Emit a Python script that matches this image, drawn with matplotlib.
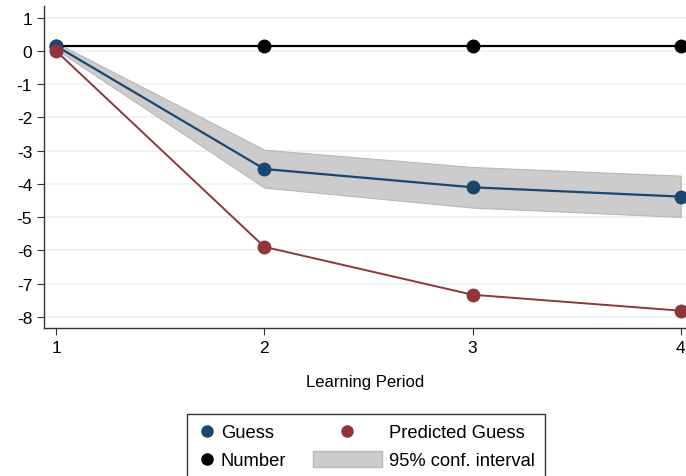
import matplotlib.pyplot as plt
import numpy as np
from matplotlib.legend_handler import HandlerBase
from matplotlib.lines import Line2D
from matplotlib.patches import Rectangle

plt.rcParams['font.family'] = ['Liberation Sans', 'DejaVu Sans']
plt.rcParams['axes.unicode_minus'] = False

period = [1, 2, 3, 4]
guess = [0.15, -3.55, -4.10, -4.38]
predicted = [0.0, -5.89, -7.33, -7.81]
number = [0.15, 0.15, 0.15, 0.15]
ci_low = [0.05, -4.11, -4.71, -4.99]
ci_high = [0.25, -2.97, -3.49, -3.75]

navy = '#1a476f'
maroon = '#90353b'
px = 72 / 100.0


class DotHandler(HandlerBase):
    def __init__(self, shift):
        super().__init__()
        self.shift = shift

    def create_artists(self, legend, orig, xd, yd, w, h, fs, trans):
        x = -xd + w + self.shift * px
        m = Line2D([x], [h / 2 - yd], marker='o', ls='none',
                   color=orig.get_color(), markersize=orig.get_markersize(),
                   transform=trans)
        return [m]


class BandHandler(HandlerBase):
    def __init__(self, left, right):
        super().__init__()
        self.left = left
        self.right = right

    def create_artists(self, legend, orig, xd, yd, w, h, fs, trans):
        x0 = -xd + w + self.left * px
        r = Rectangle((x0, -yd - 2 * px), (self.right - self.left) * px, h + 4 * px,
                      facecolor=orig.get_facecolor(), edgecolor=orig.get_edgecolor(),
                      lw=1, transform=trans)
        return [r]


fig = plt.figure(figsize=(6.86, 4.77), dpi=100)
ax = fig.add_axes([44 / 686, 1 - 329 / 477, 642 / 686, 322 / 477])

for yv in range(-8, 2):
    ax.axhline(yv, color='#eaf2f3', lw=1.2, zorder=0)

band = ax.fill_between(period, ci_low, ci_high, facecolor='#cccccc',
                       edgecolor='#b8b8b8', lw=0.8, zorder=1)
l_num, = ax.plot(period, number, color='black', lw=1.6, marker='o',
                 markersize=9, zorder=2)
l_guess, = ax.plot(period, guess, color=navy, lw=1.6, marker='o',
                   markersize=9, zorder=3)
l_pred, = ax.plot(period, predicted, color=maroon, lw=1.4, marker='o',
                  markersize=9, zorder=4)

ax.set_xlim(0.942, 4.025)
ax.set_ylim(-8.33, 1.35)
ax.set_xticks(period)
ax.set_yticks(range(-8, 2))
ax.tick_params(labelsize=12.5, length=5, color='#333333', direction='out')
ax.spines['top'].set_visible(False)
ax.spines['right'].set_visible(False)
for s in ['left', 'bottom']:
    ax.spines[s].set_color('#333333')
    ax.spines[s].set_linewidth(1)
ax.set_xlabel('Learning Period', fontsize=12, labelpad=14)

leg_guess = Line2D([], [], color=navy, markersize=8)
leg_num = Line2D([], [], color='black', markersize=8)
leg_pred = Line2D([], [], color=maroon, markersize=8)
leg = fig.legend([leg_guess, leg_num, leg_pred, band],
                 ['Guess', 'Number', 'Predicted Guess', '95% conf. interval'],
                 ncol=2, loc='upper left', bbox_to_anchor=(187 / 686, 1 - 415 / 477),
                 borderaxespad=0, fontsize=13.2, handlelength=1.1, handletextpad=0.2,
                 columnspacing=4.3, borderpad=0.55, labelspacing=0.62,
                 fancybox=False, framealpha=1, edgecolor='#333333',
                 handler_map={leg_guess: DotHandler(-10), leg_num: DotHandler(-10),
                              leg_pred: DotHandler(-38), band: BandHandler(-72, -3)})
leg.get_frame().set_linewidth(1)

fig.savefig('out.png', dpi=100)
